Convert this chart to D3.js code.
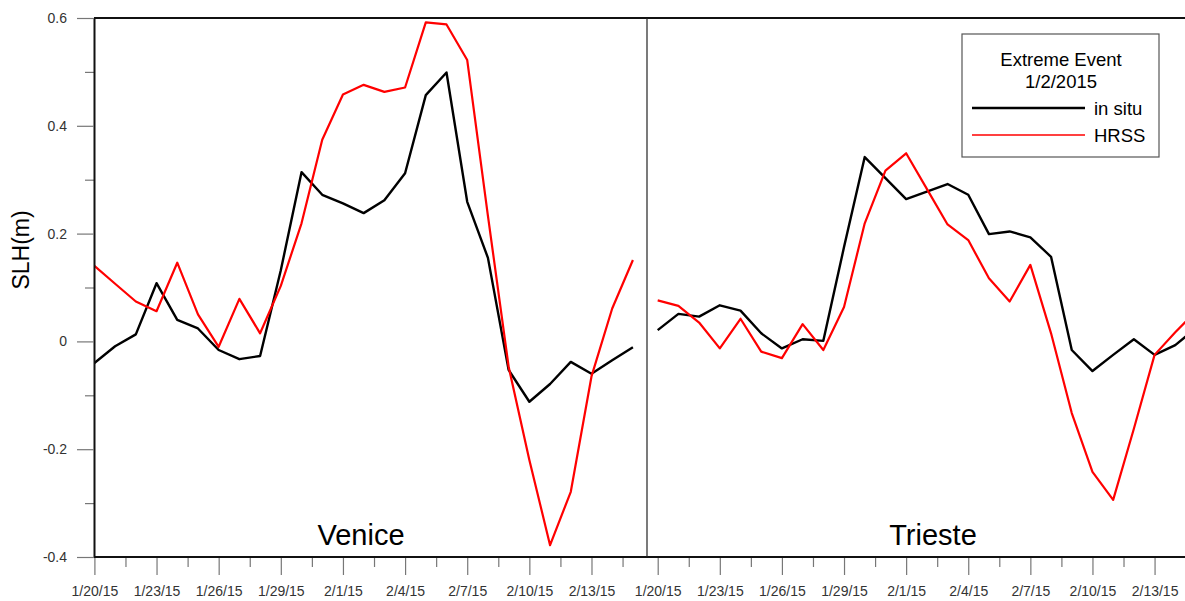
<!DOCTYPE html>
<html>
<head>
<meta charset="utf-8">
<script src="https://cdn.jsdelivr.net/npm/d3@7"></script>
<style>
  html, body { margin: 0; padding: 0; background: #fff; }
  svg { display: block; font-family: "Liberation Sans", Arial, sans-serif; }
</style>
</head>
<body>
<svg id="chart" width="1185" height="601"></svg>
<script>
// ---------------- data ----------------
const startDate = new Date(2015, 0, 20);
const dayCount = 27; // 1/20/15 .. 2/15/15, daily
const dates = d3.range(dayCount).map(i => d3.timeDay.offset(startDate, i));

const tickLabels = ["1/20/15","1/23/15","1/26/15","1/29/15","2/1/15","2/4/15","2/7/15","2/10/15","2/13/15"];
const yTickValues = [0.6, 0.4, 0.2, 0, -0.2, -0.4];
const yTickLabels = ["0.6", "0.4", "0.2", "0", "-0.2", "-0.4"];
const yMinorValues = [0.5, 0.3, 0.1, -0.1, -0.3];

const veniceInSitu = [-0.040, -0.009, 0.013, 0.108, 0.040, 0.024, -0.016, -0.033, -0.027, 0.132,
                      0.314, 0.272, 0.256, 0.238, 0.262, 0.312, 0.457, 0.499, 0.259, 0.155,
                      -0.053, -0.112, -0.079, -0.038, -0.060, -0.035, -0.011];
const veniceHRSS   = [0.140, 0.107, 0.074, 0.056, 0.146, 0.050, -0.010, 0.079, 0.015, 0.103,
                      0.219, 0.374, 0.458, 0.476, 0.463, 0.471, 0.592, 0.588, 0.522, 0.233,
                      -0.047, -0.220, -0.378, -0.279, -0.065, 0.061, 0.151];
const triesteInSitu = [0.021, 0.051, 0.046, 0.067, 0.057, 0.015, -0.013, 0.004, 0.001, 0.175,
                       0.342, 0.303, 0.264, 0.278, 0.292, 0.272, 0.199, 0.204, 0.193, 0.157,
                       -0.016, -0.055, -0.025, 0.004, -0.025, -0.007, 0.025];
const triesteHRSS   = [0.076, 0.066, 0.035, -0.013, 0.042, -0.019, -0.031, 0.032, -0.016, 0.064,
                       0.219, 0.317, 0.349, 0.283, 0.217, 0.188, 0.117, 0.074, 0.142, 0.015,
                       -0.133, -0.242, -0.294, -0.162, -0.025, 0.017, 0.056];

const panels = [
  { name: "Venice",  inSitu: veniceInSitu,  hrss: veniceHRSS,
    domain: [0, 26.68],      range: [94.4, 647],  labelX: 361 },
  { name: "Trieste", inSitu: triesteInSitu, hrss: triesteHRSS,
    domain: [-0.517, 25.47], range: [647, 1185],  labelX: 933 }
];

// ---------------- layout ----------------
const svg = d3.select("#chart");
const yTop = 18, yBottom = 557;
const y = d3.scaleLinear().domain([-0.4, 0.6]).range([yBottom, yTop]);
const fontTick = 14;

const defs = svg.append("defs");

panels.forEach((p, pi) => {
  const x = d3.scaleTime()
    .domain(p.domain.map(d => new Date(startDate.getTime() + d * 864e5)))
    .range(p.range);

  defs.append("clipPath").attr("id", "clip" + pi)
    .append("rect")
    .attr("x", p.range[0]).attr("y", 0)
    .attr("width", p.range[1] - p.range[0]).attr("height", yBottom);

  // minor x ticks (every 1.5 days between labelled ticks)
  const minorDates = d3.range(9).map(i => new Date(startDate.getTime() + (1.5 + 3 * i) * 864e5))
    .filter(d => x(d) > p.range[0] + 1 && x(d) < p.range[1] - 1);
  const majorDates = tickLabels.map((t, i) => d3.timeDay.offset(startDate, 3 * i));

  const gMinor = svg.append("g").attr("transform", `translate(0,${yBottom})`)
    .call(d3.axisBottom(x).tickValues(minorDates).tickSize(10).tickSizeOuter(0).tickFormat(""));
  gMinor.select(".domain").remove();
  gMinor.selectAll(".tick line").attr("stroke", "#777").attr("stroke-width", 1.2);

  const gMajor = svg.append("g").attr("transform", `translate(0,${yBottom})`)
    .call(d3.axisBottom(x).tickValues(majorDates).tickSize(18).tickSizeOuter(0)
      .tickFormat((d, i) => tickLabels[i]));
  gMajor.select(".domain").remove();
  gMajor.selectAll(".tick line").attr("stroke", "#777").attr("stroke-width", 1.2);
  gMajor.selectAll(".tick text")
    .attr("y", 39).attr("dy", 0)
    .attr("fill", "#333")
    .style("font-family", "'Liberation Sans', Arial, sans-serif")
    .style("font-size", fontTick + "px");

  // lines
  const line = d3.line()
    .x((d, i) => x(dates[i]))
    .y(d => y(d));

  const g = svg.append("g").attr("clip-path", `url(#clip${pi})`);
  g.append("path").datum(p.inSitu)
    .attr("d", line).attr("fill", "none")
    .attr("stroke", "#000").attr("stroke-width", 2.4).attr("stroke-linejoin", "round");
  g.append("path").datum(p.hrss)
    .attr("d", line).attr("fill", "none")
    .attr("stroke", "#ff0000").attr("stroke-width", 2.2).attr("stroke-linejoin", "round");

  svg.append("text")
    .attr("x", p.labelX).attr("y", 545)
    .attr("text-anchor", "middle")
    .style("font-size", "29px")
    .attr("fill", "#000")
    .text(p.name);
});

// frame
svg.append("line").attr("x1", 94).attr("x2", 1185).attr("y1", yTop).attr("y2", yTop)
  .attr("stroke", "#111").attr("stroke-width", 2);
svg.append("line").attr("x1", 94).attr("x2", 1185).attr("y1", yBottom).attr("y2", yBottom)
  .attr("stroke", "#111").attr("stroke-width", 2);
svg.append("line").attr("x1", 647).attr("x2", 647).attr("y1", yTop).attr("y2", yBottom)
  .attr("stroke", "#222").attr("stroke-width", 1.2);

// y axis
const gyMinor = svg.append("g").attr("transform", "translate(94,0)")
  .call(d3.axisLeft(y).tickValues(yMinorValues).tickSize(9).tickSizeOuter(0).tickFormat(""));
gyMinor.select(".domain").remove();
gyMinor.selectAll(".tick line").attr("stroke", "#777").attr("stroke-width", 1.2);

const gy = svg.append("g").attr("transform", "translate(94,0)")
  .call(d3.axisLeft(y).tickValues(yTickValues).tickSize(17).tickSizeOuter(0)
    .tickFormat((d, i) => yTickLabels[i]));
gy.select(".domain").attr("stroke", "#111").attr("stroke-width", 2);
gy.selectAll(".tick line").attr("stroke", "#777").attr("stroke-width", 1.2);
gy.selectAll(".tick text")
  .attr("x", -27)
  .attr("fill", "#333")
  .style("font-family", "'Liberation Sans', Arial, sans-serif")
  .style("font-size", fontTick + "px");

svg.append("text")
  .attr("transform", "translate(29,250) rotate(-90)")
  .attr("text-anchor", "middle")
  .style("font-size", "23px")
  .attr("fill", "#000")
  .text("SLH(m)");

// legend
const leg = svg.append("g");
leg.append("rect").attr("x", 962).attr("y", 34).attr("width", 197).attr("height", 123)
  .attr("fill", "#fff").attr("stroke", "#555").attr("stroke-width", 1.2);
leg.append("text").attr("x", 1061).attr("y", 65.5).attr("text-anchor", "middle")
  .style("font-size", "18.5px").text("Extreme Event");
leg.append("text").attr("x", 1061).attr("y", 87.5).attr("text-anchor", "middle")
  .style("font-size", "18.5px").text("1/2/2015");
leg.append("line").attr("x1", 972).attr("x2", 1085).attr("y1", 108).attr("y2", 108)
  .attr("stroke", "#000").attr("stroke-width", 2.6);
leg.append("text").attr("x", 1094).attr("y", 115).style("font-size", "18.5px").text("in situ");
leg.append("line").attr("x1", 972).attr("x2", 1085).attr("y1", 135).attr("y2", 135)
  .attr("stroke", "#ff0000").attr("stroke-width", 1.6);
leg.append("text").attr("x", 1094).attr("y", 142).style("font-size", "18.5px").text("HRSS");
</script>
</body>
</html>
